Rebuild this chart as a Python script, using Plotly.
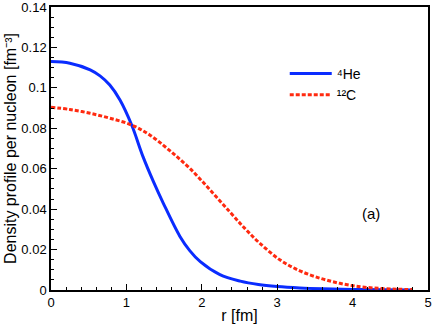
import plotly.graph_objects as go

# radial grid [fm] and densities
r_he = [0, 0.25, 0.52, 0.65, 0.78, 0.915, 1.07, 1.22, 1.36, 1.49, 1.71,
        1.84, 1.98, 2.24, 2.51, 2.75, 3.0, 3.3, 3.6, 4.0, 4.4, 4.8]
rho_he = [0.113, 0.1122, 0.1089, 0.1059, 0.1014, 0.094, 0.0816, 0.066, 0.0535,
          0.0429, 0.0265, 0.0195, 0.0140, 0.0076, 0.0044, 0.0027, 0.0017,
          0.0010, 0.0006, 0.0003, 0.0001, 0.0]

r_c = [0, 0.25, 0.52, 0.78, 1.07, 1.31, 1.58, 1.84, 2.11, 2.37, 2.57, 2.77, 3.04,
       3.30, 3.57, 3.83, 4.10, 4.36, 4.6, 4.8]
rho_c = [0.0904, 0.0893, 0.0874, 0.085, 0.0816, 0.0767, 0.0688, 0.0602, 0.0495,
         0.0387, 0.0305, 0.0231, 0.0148, 0.0095, 0.0058, 0.0033, 0.0016, 0.0008,
         0.0004, 0.0002]

x_ticks = [0, 1, 2, 3, 4, 5]
y_ticks = [0, 0.02, 0.04, 0.06, 0.08, 0.1, 0.12, 0.14]
y_labels = ['0', '0.02', '0.04', '0.06', '0.08', '0.1', '0.12', '0.14']

font = 'Liberation Sans, Arial, sans-serif'

fig = go.Figure()
fig.add_trace(go.Scatter(x=r_he, y=rho_he, mode='lines', name='\u2074He',
                         line=dict(color='#0a2cff', width=3, shape='spline')))
fig.add_trace(go.Scatter(x=r_c, y=rho_c, mode='lines', name='\u00b9\u00b2C',
                         line=dict(color='#ff2a10', width=3, dash='4px,2px', shape='spline')))

fig.add_annotation(x=4.25, y=0.038, text='(a)', showarrow=False,
                   font=dict(size=15, color='black', family=font))

axis_common = dict(showline=True, linecolor='black', linewidth=1.5, mirror=True,
                   ticks='inside', ticklen=6, tickwidth=1, tickcolor='black',
                   showgrid=False, zeroline=False, automargin=False,
                   ticklabeloverflow='allow',
                   tickfont=dict(size=13, color='black', family=font))

fig.update_xaxes(range=[0, 5], tickvals=x_ticks,
                 minor=dict(ticks='inside', ticklen=3, dtick=0.2, tickcolor='black', showgrid=False),
                 title=dict(text='r [fm]', font=dict(size=16, color='black', family=font), standoff=0),
                 **axis_common)
fig.update_yaxes(range=[0, 0.14], tickvals=y_ticks, ticktext=y_labels,
                 minor=dict(ticks='inside', ticklen=3, dtick=0.005, tickcolor='black', showgrid=False),
                 title=dict(text='Density profile per nucleon [fm\u207b\u00b3]',
                            font=dict(size=16, color='black', family=font), standoff=1),
                 **axis_common)

fig.update_layout(
    width=436, height=327,
    margin=dict(l=51, r=8, t=7, b=37),
    paper_bgcolor='white', plot_bgcolor='white',
    font=dict(family=font, color='black'),
    legend=dict(x=0.62, y=0.82, xanchor='left', yanchor='top', itemwidth=42,
                bgcolor='rgba(0,0,0,0)', font=dict(size=14, color='black', family=font),
                tracegroupgap=0),
)

# page body has a default margin; drop it so the figure sits at the window corner
fig.write_html("out.html", config={'displayModeBar': False},
               post_script="document.body.style.margin='0';")
